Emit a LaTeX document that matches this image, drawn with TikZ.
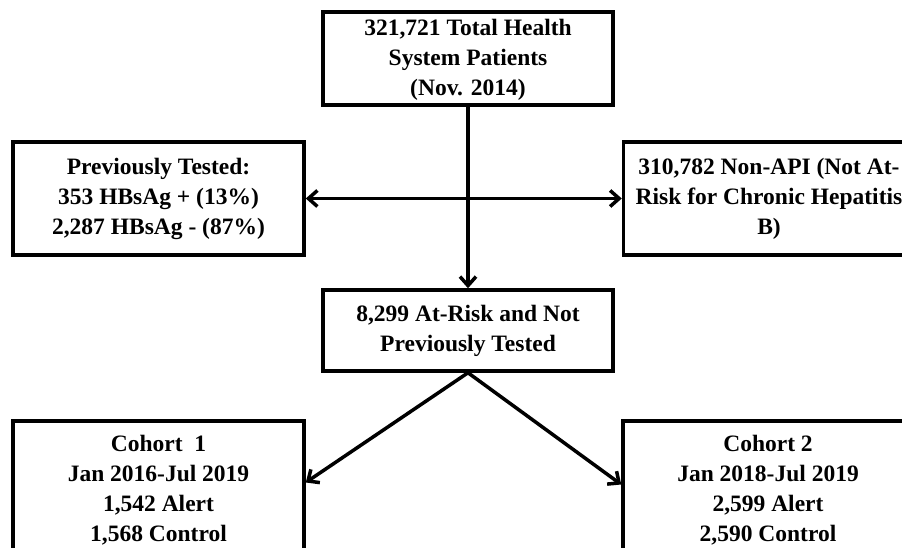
\documentclass[tikz,border=0pt]{standalone}
\usepackage{fontspec}
\setmainfont{Liberation Serif}
\usetikzlibrary{arrows.meta}

\begin{document}
\begin{tikzpicture}[x=1pt,y=1pt,
    box/.style={draw,line width=3.5pt,fill=white,inner sep=0pt,align=center,
        font=\fontsize{23.5}{30}\selectfont\bfseries},
    link/.style={-{Straight Barb[length=9pt,width=16pt,line width=3.5pt]},line width=3.5pt}]
        \clip (0,0) rectangle (902,547);

        % top of the flow
        \node[box,minimum width=290,minimum height=93] (total) at (468,488.5)
            {\rule{0pt}{20pt}321,721 Total Health\\System Patients\\(Nov. 2014)};

        % excluded on both sides
        \node[box,minimum width=291,minimum height=113] (prev) at (158.5,348.5)
            {Previously Tested:\\353 HBsAg + (13\%)\\2,287 HBsAg - (87\%)};
        \node[box,minimum width=291,minimum height=113] (nonapi) at (769,348.5)
            {310,782 Non-API (Not At-\\Risk for Chronic Hepatitis\\B)};

        \node[box,minimum width=290,minimum height=81] (atrisk) at (468,216.5)
            {8,299 At-Risk and Not\\Previously Tested};

        % the two cohorts
        \node[box,minimum width=291,minimum height=139] (cohA) at (158.5,56.5)
            {Cohort\ \ 1\\Jan 2016-Jul 2019\\1,542 Alert\\1,568 Control};
        \node[box,minimum width=290,minimum height=139] (cohB) at (768,56.5)
            {Cohort 2\\Jan 2018-Jul 2019\\2,599 Alert\\2,590 Control};

        \coordinate (split) at (468,348.5);

        \draw[link] (total.south) -- (atrisk.north);
        \draw[link] (split) -- (prev.east);
        \draw[link] (split) -- (nonapi.west);

        \draw[link] (atrisk.south) -- ([yshift=8pt]cohA.east);
        \draw[link] (atrisk.south) -- ([yshift=6pt]cohB.west);

    \end{tikzpicture}
\end{document}
